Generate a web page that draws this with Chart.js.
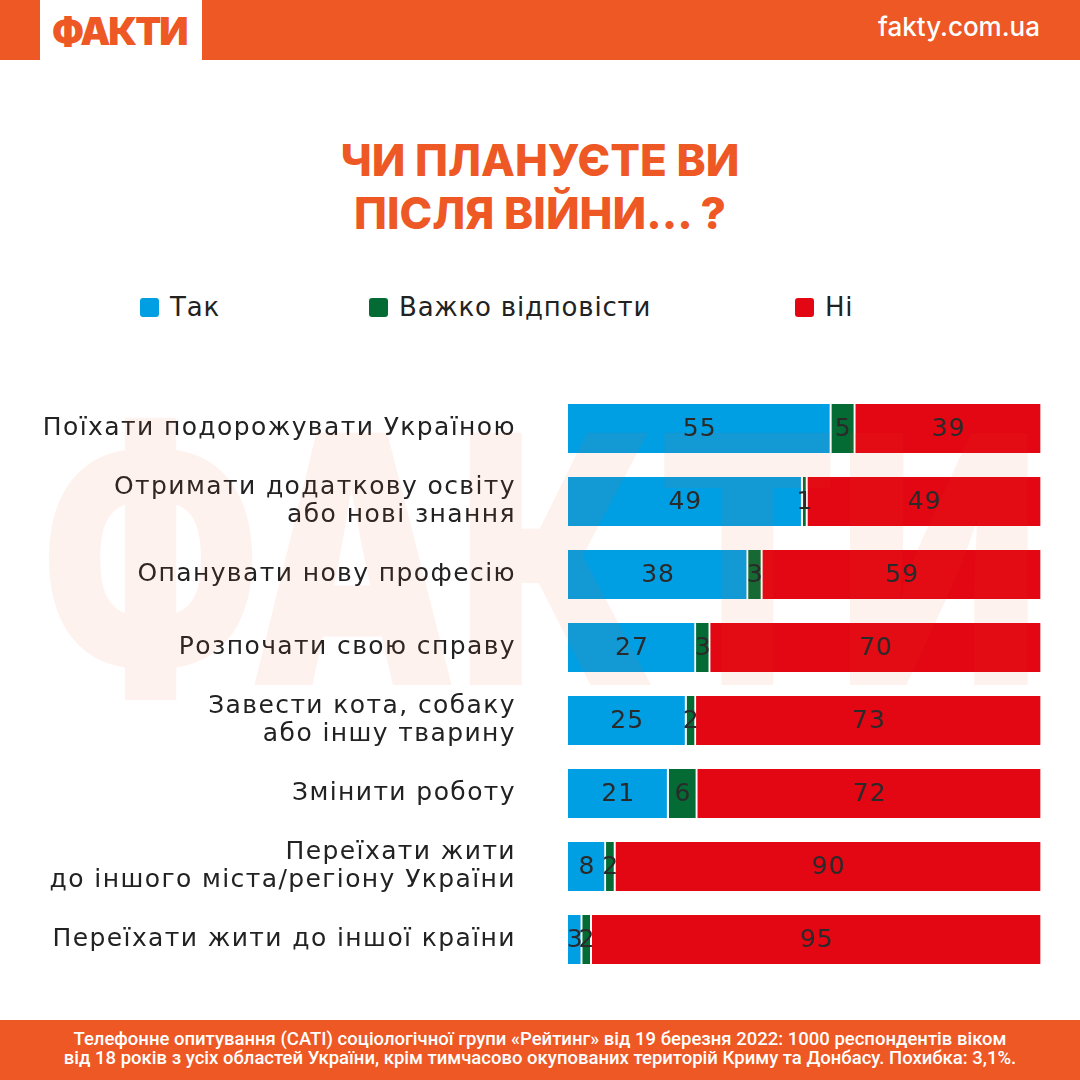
<!DOCTYPE html>
<html>
<head>
<meta charset="utf-8">
<script src="https://cdn.jsdelivr.net/npm/chart.js@4"></script>
<style>
  html, body { margin: 0; padding: 0; }
  body { width: 1080px; height: 1080px; position: relative; background: #fff; overflow: hidden; font-family: Inter, "Noto Sans", sans-serif; }
  .top { position: absolute; left: 0; top: 0; width: 1080px; height: 60px; background: #EE5824; }
  .logo { position: absolute; left: 40px; top: 0; width: 162px; height: 60px; background: #fff; }
  .logo span { position: absolute; left: 12px; top: 8px; font: 900 38px Inter; color: #EE5824; letter-spacing: -2px; }
  .site { position: absolute; right: 40px; top: 11px; font: 500 26px Inter; color: #fff; }
  .title { position: absolute; left: 0; top: 134px; width: 1080px; text-align: center; font: 800 44px/53px Inter; color: #EE5824; }
  .legend { position: absolute; top: 292px; font: 400 26px "DejaVu Sans"; letter-spacing: 0.8px; color: #222; white-space: nowrap; }
  .legend i { display: inline-block; width: 19px; height: 19px; border-radius: 3px; vertical-align: -1px; margin-right: 11px; }
  .foot { position: absolute; left: 0; top: 1020px; width: 1080px; height: 60px; background: #EE5824; }
  .foot div { position: absolute; left: 0; top: 10px; width: 1080px; text-align: center; font: 500 18.5px/19px Roboto; color: #fff; }
  canvas { position: absolute; left: 0; top: 0; }
</style>
</head>
<body>
<div class="top"><div class="logo"><span>ФАКТИ</span></div><div class="site">fakty.com.ua</div></div>
<div class="title">ЧИ ПЛАНУЄТЕ ВИ<br>ПІСЛЯ ВІЙНИ... ?</div>
<div id="legend"></div>
<div class="foot"><div>Телефонне опитування (CATI) соціологічної групи «Рейтинг» від 19 березня 2022: 1000 респондентів віком<br>від 18 років з усіх областей України, крім тимчасово окупованих територій Криму та Донбасу. Похибка: 3,1%.</div></div>
<canvas id="chart" width="1080" height="1080"></canvas>
<script>
// Data
const categories = [
  'Поїхати подорожувати Україною',
  ['Отримати додаткову освіту', 'або нові знання'],
  'Опанувати нову професію',
  'Розпочати свою справу',
  ['Завести кота, собаку', 'або іншу тварину'],
  'Змінити роботу',
  ['Переїхати жити', 'до іншого міста/регіону України'],
  'Переїхати жити до іншої країни'
];
const seriesNames = ['Так', 'Важко відповісти', 'Ні'];
const yes = [55, 49, 38, 27, 25, 21, 8, 3];
const hard = [5, 1, 3, 3, 2, 6, 2, 2];
const no = [39, 49, 59, 70, 73, 72, 90, 95];
const colors = ['#009FE3', '#056B35', '#E30613'];

// each bar is stretched to the full width
const totals = yes.map((v, i) => v + hard[i] + no[i]);
const share = arr => arr.map((v, i) => v / totals[i] * 100);
const raw = [yes, hard, no];

// HTML legend
const legendX = [140, 369, 795];
document.getElementById('legend').innerHTML = seriesNames.map((n, i) =>
  `<div class="legend" style="left:${legendX[i]}px"><i style="background:${colors[i]}"></i>${n}</div>`).join('');

// Wider tracking for the category labels, value labels and a faint logo watermark
const overlay = {
  id: 'overlay',
  beforeDraw(chart) {
    chart.ctx.letterSpacing = '1.4px';
  },
  afterDatasetsDraw(chart) {
    const ctx = chart.ctx;
    ctx.save();
    ctx.letterSpacing = '0px';
    ctx.font = '900 340px Inter';
    const w = ctx.measureText('ФАКТИ').width;
    ctx.translate(40, 685);
    ctx.scale(1000 / w, 1.02);
    ctx.fillStyle = 'rgba(238, 88, 36, 0.08)';
    ctx.fillText('ФАКТИ', 0, 0);
    ctx.restore();

    ctx.save();
    ctx.letterSpacing = '1px';
    ctx.font = '400 25px "DejaVu Sans"';
    ctx.fillStyle = '#2a2a2a';
    ctx.textAlign = 'center';
    ctx.textBaseline = 'middle';
    chart.data.datasets.forEach((ds, di) => {
      chart.getDatasetMeta(di).data.forEach((bar, i) => {
        ctx.fillText(raw[di][i], (bar.x + bar.base) / 2, bar.y + 1);
      });
    });
    ctx.restore();
  },
  afterDraw(chart) {
    chart.ctx.letterSpacing = '0px';
  }
};

new Chart(document.getElementById('chart'), {
  type: 'bar',
  data: {
    labels: categories,
    datasets: seriesNames.map((n, i) => ({
      label: n,
      data: share(raw[i]),
      backgroundColor: colors[i],
      borderColor: '#fff',
      borderWidth: { left: 0, right: 2, top: 0, bottom: 0 },
      borderSkipped: false,
      barThickness: 49
    }))
  },
  options: {
    indexAxis: 'y',
    responsive: false,
    animation: false,
    layout: { padding: { top: 392, bottom: 104, right: 38, left: 0 } },
    plugins: { legend: { display: false }, tooltip: { enabled: false } },
    scales: {
      x: { stacked: true, min: 0, max: 100, display: false },
      y: {
        stacked: true,
        grid: { display: false },
        border: { display: false },
        afterFit(scale) { scale.width = 568; },
        ticks: { color: '#222', padding: 44, font: { family: 'DejaVu Sans', size: 25, lineHeight: 1.1 } }
      }
    }
  },
  plugins: [overlay]
});
</script>
</body>
</html>
